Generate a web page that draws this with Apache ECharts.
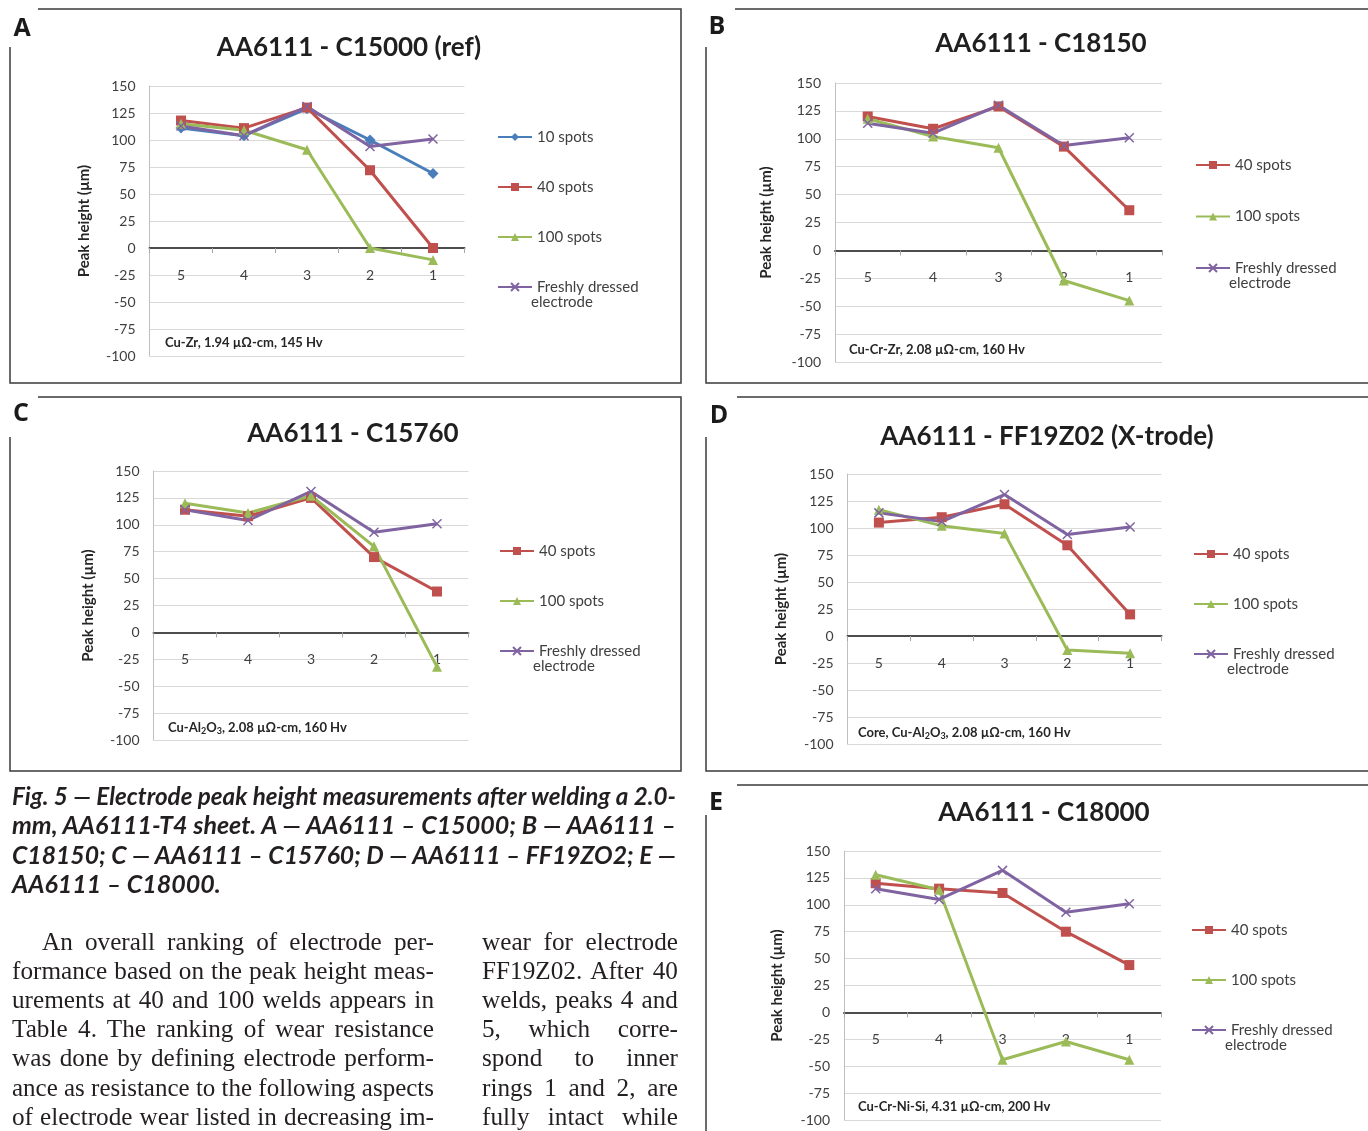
<!DOCTYPE html>
<html><head><meta charset="utf-8">
<script src="https://cdn.jsdelivr.net/npm/echarts@6/dist/echarts.min.js"></script>
<style>
html,body{margin:0;padding:0;background:#fff;width:1368px;height:1131px;overflow:hidden;}
#chart{position:absolute;left:0;top:0;width:1368px;height:1131px;}
.ln{position:absolute;color:#231f20;transform-origin:0 0;}
.cap{font-family:Lato,'Open Sans',sans-serif;font-weight:700;font-style:italic;}
.bd{font-family:'Liberation Serif','Times New Roman',serif;}
</style></head>
<body>
<div id="chart"></div>
<div id="text"></div>
<script>
// ---------- data ----------
const categories = ['5', '4', '3', '2', '1'];
const yMin = -100, yMax = 150, yStep = 25;
const nameS10 = '10 spots', nameS40 = '40 spots', nameS100 = '100 spots', nameFresh = 'Freshly dressed electrode';

const aS10   = [111, 104, 129, 100, 69];
const aS40   = [118, 111, 130, 72, 0];
const aS100  = [115, 109, 91, 0, -11];
const aFresh = [113, 104, 131, 94, 101];

const bS40   = [120, 109, 129, 93, 36];
const bS100  = [118, 102, 92, -27, -45];
const bFresh = [114, 105, 130, 94, 101];

const cS40   = [114, 108, 125, 70, 38];
const cS100  = [120, 111, 127, 80, -32];
const cFresh = [114, 104, 131, 93, 101];

const dS40   = [105, 110, 122, 84, 20];
const dS100  = [117, 102, 95, -13, -16];
const dFresh = [114, 106, 131, 94, 101];

const eS40   = [120, 115, 111, 75, 44];
const eS100  = [128, 114, -44, -27, -44];
const eFresh = [115, 105, 132, 93, 101];

const panelLetters = ['A', 'B', 'C', 'D', 'E'];
const panelTitles = ['AA6111 - C15000 (ref)', 'AA6111 - C18150', 'AA6111 - C15760', 'AA6111 - FF19Z02 (X-trode)', 'AA6111 - C18000'];
const panelNotes = [
  '{n|Cu-Zr, 1.94 µΩ-cm, 145 Hv}',
  '{n|Cu-Cr-Zr, 2.08 µΩ-cm, 160 Hv}',
  '{n|Cu-Al}{s|2}{n|O}{s|3}{n|, 2.08 µΩ-cm, 160 Hv}',
  '{n|Core, Cu-Al}{s|2}{n|O}{s|3}{n|, 2.08 µΩ-cm, 160 Hv}',
  '{n|Cu-Cr-Ni-Si, 4.31 µΩ-cm, 200 Hv}'
];
const yAxisTitle = 'Peak height (µm)';
const panelSeries = [
  [[nameS10, aS10], [nameS40, aS40], [nameS100, aS100], [nameFresh, aFresh]],
  [[nameS40, bS40], [nameS100, bS100], [nameFresh, bFresh]],
  [[nameS40, cS40], [nameS100, cS100], [nameFresh, cFresh]],
  [[nameS40, dS40], [nameS100, dS100], [nameFresh, dFresh]],
  [[nameS40, eS40], [nameS100, eS100], [nameFresh, eFresh]]
];

const captionLines = [
  'Fig. 5 — Electrode peak height measurements after welding a 2.0-',
  'mm, AA6111-T4 sheet. A — AA6111 – C15000; B — AA6111 –',
  'C18150; C — AA6111 – C15760; D — AA6111 – FF19ZO2; E —',
  'AA6111 – C18000.'
];
const bodyLeftLines = [
  'An overall ranking of electrode per-',
  'formance based on the peak height meas-',
  'urements at 40 and 100 welds appears in',
  'Table 4. The ranking of wear resistance',
  'was done by defining electrode perform-',
  'ance as resistance to the following aspects',
  'of electrode wear listed in decreasing im-'
];
const bodyRightLines = [
  'wear for electrode',
  'FF19Z02. After 40',
  'welds, peaks 4 and',
  '5, which corre-',
  'spond to inner',
  'rings 1 and 2, are',
  'fully intact while'
];

// ---------- styles / layout ----------
const seriesStyle = {};
seriesStyle[nameS10]   = {color: '#4A7EBB', symbol: 'diamond', symbolSize: 11};
seriesStyle[nameS40]   = {color: '#C0504D', symbol: 'rect', symbolSize: 10};
seriesStyle[nameS100]  = {color: '#9BBB59', symbol: 'triangle', symbolSize: 10};
seriesStyle[nameFresh] = {color: '#8064A2', symbol: 'path://M0,0L10,10M10,0L0,10', symbolSize: 9};

const layout = [
  {grid: {left: 149.5, top: 86, width: 315, height: 270}, nameGap: 58, title: [349, 48], letter: [22, 29], legend: [492, 132], legendStep: 50, note: [165, 343],
   frame: [[[38, 9], [681, 9], [681, 383], [10, 383], [10, 47]]]},
  {grid: {left: 835, top: 83, width: 327, height: 279}, nameGap: 61, title: [1041, 44], letter: [717, 27], legend: [1190, 160], legendStep: 51.5, note: [849, 350],
   frame: [[[735, 9], [1368, 9]], [[706, 47], [706, 383], [1368, 383]]]},
  {grid: {left: 153.5, top: 471, width: 315, height: 269}, nameGap: 58, title: [353, 434], letter: [21, 414], legend: [494, 546], legendStep: 50, note: [168, 728],
   frame: [[[38, 397], [681, 397], [681, 771], [10, 771], [10, 437]]]},
  {grid: {left: 847.5, top: 474, width: 314, height: 270}, nameGap: 59, title: [1047, 437], letter: [719, 416], legend: [1188, 549], legendStep: 50, note: [858, 733],
   frame: [[[737, 397], [1368, 397]], [[706, 437], [706, 771], [1368, 771]]]},
  {grid: {left: 844, top: 851, width: 317, height: 269}, nameGap: 59, title: [1044, 813], letter: [716, 803], legend: [1186, 925], legendStep: 50, note: [858, 1107],
   frame: [[[737, 785], [1368, 785]], [[706, 815], [706, 1131]]]}
];

const FONT = 'Lato, "Open Sans", sans-serif';
const LEG_W = 34;
const zeroFrac = (0 - yMin) / (yMax - yMin);  // where the category axis crosses the value axis

const grids = [], xAxes = [], yAxes = [], series = [], legends = [], graphics = [];
layout.forEach((L, i) => {
  grids.push(Object.assign({containLabel: false}, L.grid));
  xAxes.push({
    gridIndex: i, type: 'category', data: categories, boundaryGap: true,
    position: 'bottom', offset: -zeroFrac * L.grid.height,
    axisLine: {show: true, onZero: false, lineStyle: {color: '#4d4d4d', width: 2}},
    axisTick: {show: true, length: 5, lineStyle: {color: '#a6a6a6'}},
    axisLabel: {margin: 20, color: '#3f3f3f', fontSize: 14, fontFamily: FONT},
    splitLine: {show: false}
  });
  yAxes.push({
    gridIndex: i, type: 'value', min: yMin, max: yMax, interval: yStep,
    name: yAxisTitle, nameLocation: 'middle', nameGap: L.nameGap, nameRotate: 90,
    nameTextStyle: {fontWeight: 'bold', fontSize: 15, color: '#262626', fontFamily: FONT},
    axisLine: {show: true, onZero: false, lineStyle: {color: '#bfbfbf', width: 1}},
    axisTick: {show: false},
    axisLabel: {margin: 14, color: '#3f3f3f', fontSize: 14, fontFamily: FONT},
    splitLine: {show: true, lineStyle: {color: '#d9d9d9', width: 1}}
  });
  const names = [];
  panelSeries[i].forEach(([nm, vals]) => {
    names.push(nm);
    const st = seriesStyle[nm];
    series.push({
      type: 'line', name: nm, xAxisIndex: i, yAxisIndex: i, data: vals,
      symbol: st.symbol, symbolSize: st.symbolSize, showAllSymbol: true,
      lineStyle: {color: st.color, width: 3},
      itemStyle: nm === nameFresh ? {color: st.color, borderColor: st.color, borderWidth: 1.5} : {color: st.color},
      animation: false
    });
  });
  legends.push({
    orient: 'vertical', left: L.legend[0], top: L.legend[1] - 10,
    itemWidth: LEG_W, itemHeight: 10, itemGap: L.legendStep - 20,
    selectedMode: false, data: names,
    formatter: n => (n === nameFresh ? 'Freshly dressed' : n),
    textStyle: {fontSize: 15, color: '#404040', fontFamily: FONT, lineHeight: 20}
  });
  graphics.push({
    type: 'text', x: L.legend[0] + LEG_W + 5, y: L.legend[1] + (names.length - 1) * L.legendStep + 20,
    style: {text: 'electrode', fontSize: 15, fontFamily: FONT, fill: '#404040', textAlign: 'left', textVerticalAlign: 'middle'}
  });
  graphics.push({
    type: 'text', x: L.title[0], y: L.title[1],
    style: {text: panelTitles[i], fontSize: 26, fontWeight: 'bold', fontFamily: FONT, fill: '#1f1f1f', textAlign: 'center', textVerticalAlign: 'middle'}
  });
  graphics.push({
    type: 'text', x: L.letter[0], y: L.letter[1],
    style: {text: panelLetters[i], fontSize: 25, fontWeight: 'bold', fontFamily: '"Open Sans", sans-serif', fill: '#1a1a1a', textAlign: 'center', textVerticalAlign: 'middle'}
  });
  graphics.push({
    type: 'text', x: L.note[0], y: L.note[1],
    style: {
      text: panelNotes[i], textAlign: 'left', textVerticalAlign: 'middle',
      rich: {
        n: {fontSize: 13, fontWeight: 'bold', fontFamily: FONT, fill: '#262626', lineHeight: 16},
        s: {fontSize: 9, fontWeight: 'bold', fontFamily: FONT, fill: '#262626', lineHeight: 16, verticalAlign: 'bottom', padding: [5, 0, 0, 0]}
      }
    }
  });
  L.frame.forEach(pts => {
    graphics.push({type: 'polyline', shape: {points: pts}, style: {stroke: '#3a3a3a', lineWidth: 1.5, fill: null}, silent: true});
  });
});

const chart = echarts.init(document.getElementById('chart'), null, {renderer: 'canvas'});
chart.setOption({
  animation: false,
  backgroundColor: '#fff',
  grid: grids, xAxis: xAxes, yAxis: yAxes, series: series, legend: legends,
  graphic: {elements: graphics}
});

// ---------- caption & body text ----------
const host = document.getElementById('text');
function placeLines(lines, cfg) {
  lines.forEach((t, k) => {
    const left = (k === 0 && cfg.firstLeft != null) ? cfg.firstLeft : cfg.left;
    const width = cfg.right - left;
    const justify = cfg.justify(k);
    const d = document.createElement('div');
    d.className = 'ln ' + cfg.cls;
    d.textContent = t;
    d.style.fontSize = cfg.size + 'px';
    d.style.lineHeight = cfg.lh + 'px';
    d.style.left = left + 'px';
    d.style.top = (cfg.y0 + k * cfg.dy - cfg.lh / 2 - 2) + 'px';
    d.style.whiteSpace = 'nowrap';
    host.appendChild(d);
    const nat = d.getBoundingClientRect().width;
    const boxW = width / cfg.s;
    if (nat > boxW && justify) {
      d.style.transform = 'scaleX(' + (width / nat) + ')';
    } else {
      d.style.transform = 'scaleX(' + cfg.s + ')';
      if (justify) {
        d.style.whiteSpace = 'normal';
        d.style.width = boxW + 'px';
        d.style.textAlign = 'justify';
        d.style.textAlignLast = 'justify';
      }
    }
  });
}
placeLines(captionLines, {cls: 'cap', size: 25, lh: 28, s: 1.0, left: 12, right: 676, y0: 797, dy: 29.3, justify: k => k < 3});
placeLines(bodyLeftLines, {cls: 'bd', size: 26, lh: 29, s: 0.97, left: 12, firstLeft: 42, right: 434, y0: 943, dy: 29.2, justify: k => true});
placeLines(bodyRightLines, {cls: 'bd', size: 26, lh: 29, s: 0.97, left: 482, right: 678, y0: 943, dy: 29.2, justify: k => true});
</script>
</body></html>
